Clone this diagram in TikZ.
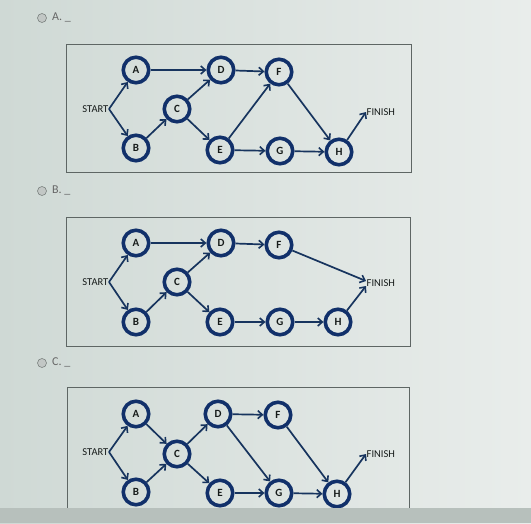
\documentclass[tikz,border=0pt]{standalone}
\usepackage{fontspec}
\setmainfont{Carlito}
\usetikzlibrary{arrows.meta,positioning}
\definecolor{navy}{HTML}{11306A}
\definecolor{arrowc}{HTML}{17345E}
\definecolor{bgl}{HTML}{CFD9D5}
\definecolor{bgr}{HTML}{E9EDEB}
\definecolor{boxc}{HTML}{5E6664}
\definecolor{barc}{HTML}{B7C0BC}
\definecolor{radio}{HTML}{9AA29F}
\definecolor{txt}{HTML}{161B1A}
\tikzset{
  nd/.style={circle,draw=navy,line width=3.6pt,minimum size=25.5pt,inner sep=0pt,
    font=\fontsize{11}{12}\selectfont\bfseries,text=txt},
  ar/.style={draw=arrowc,line width=1.7pt,-{Straight Barb[length=4.5pt,width=8pt,line width=1.6pt]}},
  lbl/.style={font=\fontsize{10.5}{11}\selectfont,text=txt,inner sep=0.5pt},
  panel/.style={draw=boxc,line width=0.8pt},
  opt/.style={font=\fontsize{12}{13}\selectfont,text=black!60,inner sep=0pt,anchor=west},
  rb/.style={circle,draw=radio!80!black,fill=radio!60,line width=0.6pt,minimum size=9pt,inner sep=0pt}
}
\begin{document}
\begin{tikzpicture}[x=1pt,y=-1pt]
\useasboundingbox (0,0) rectangle (531,523);
\shade[left color=bgl,right color=bgr] (0,0) rectangle (531,523);
% ---------- Panel A ----------
\node[rb] (ra) at (42,18) {};
\node[opt] (ta) at (52,17) {A. \_};
\draw[panel] (66,44) rectangle (411,172);
\node[lbl,anchor=east] (Sa) at (109,109) {START};
\node[lbl,anchor=west] (Fa) at (366,112) {FINISH};
\node[nd] (Aa) at (136,70) {A};
\node[nd] (Da) at (221,70) {D};
\node[nd] (FFa) at (279,72) {F};
\node[nd] (Ca) at (177,109) {C};
\node[nd] (Ba) at (136,148) {B};
\node[nd] (Ea) at (220,150) {E};
\node[nd] (Ga) at (280,151) {G};
\node[nd] (Ha) at (339,152) {H};
\draw[ar] (Sa.east) -- (Aa);
\draw[ar] (Sa.east) -- (Ba);
\draw[ar] (Aa) -- (Da);
\draw[ar] (Ba) -- (Ca);
\draw[ar] (Ca) -- (Da);
\draw[ar] (Ca) -- (Ea);
\draw[ar] (Da) -- (FFa);
\draw[ar] (Ea) -- (FFa);
\draw[ar] (Ea) -- (Ga);
\draw[ar] (FFa) -- (Ha);
\draw[ar] (Ga) -- (Ha);
\draw[ar] (Ha) -- (Fa.west);
% ---------- Panel B ----------
\node[rb] (rb2) at (42,191) {};
\node[opt] (tb) at (52,190) {B. \_};
\draw[panel] (66,217) rectangle (410,346);
\node[lbl,anchor=east] (Sb) at (109,282) {START};
\node[lbl,anchor=west] (Fb) at (366,283) {FINISH};
\node[nd] (Ab) at (136,243) {A};
\node[nd] (Db) at (221,243) {D};
\node[nd] (FFb) at (279,245) {F};
\node[nd] (Cb) at (177,282) {C};
\node[nd] (Bb) at (136,322) {B};
\node[nd] (Eb) at (220,322) {E};
\node[nd] (Gb) at (280,322) {G};
\node[nd] (Hb) at (338,322) {H};
\draw[ar] (Sb.east) -- (Ab);
\draw[ar] (Sb.east) -- (Bb);
\draw[ar] (Ab) -- (Db);
\draw[ar] (Bb) -- (Cb);
\draw[ar] (Cb) -- (Db);
\draw[ar] (Cb) -- (Eb);
\draw[ar] (Db) -- (FFb);
\draw[ar] (Eb) -- (Gb);
\draw[ar] (Gb) -- (Hb);
\draw[ar] (FFb) -- ([yshift=2pt]Fb.west);
\draw[ar] (Hb) -- ([yshift=-3pt]Fb.west);
% ---------- Panel C ----------
\node[rb] (rc) at (42,363) {};
\node[opt] (tc) at (52,362) {C. \_};
\draw[panel] (67,509) -- (67,387) -- (409,387) -- (409,509);
\node[lbl,anchor=east] (Sc) at (109,452) {START};
\node[lbl,anchor=west] (Fc) at (366,454) {FINISH};
\node[nd] (Ac) at (136,414) {A};
\node[nd] (Dc) at (218,414) {D};
\node[nd] (FFc) at (278,415) {F};
\node[nd] (Cc) at (177,454) {C};
\node[nd] (Bc) at (136,492) {B};
\node[nd] (Ec) at (220,493) {E};
\node[nd] (Gc) at (279,493) {G};
\node[nd] (Hc) at (337,494) {H};
\draw[ar] (Sc.east) -- (Ac);
\draw[ar] (Sc.east) -- (Bc);
\draw[ar] (Ac) -- (Cc);
\draw[ar] (Bc) -- (Cc);
\draw[ar] (Cc) -- (Dc);
\draw[ar] (Cc) -- (Ec);
\draw[ar] (Dc) -- (FFc);
\draw[ar] (Dc) -- (Gc);
\draw[ar] (FFc) -- (Hc);
\draw[ar] (Ec) -- (Gc);
\draw[ar] (Gc) -- (Hc);
\draw[ar] (Hc) -- (Fc.west);
% bottom bar
\fill[barc] (0,508) rectangle (531,523);
\end{tikzpicture}
\end{document}
